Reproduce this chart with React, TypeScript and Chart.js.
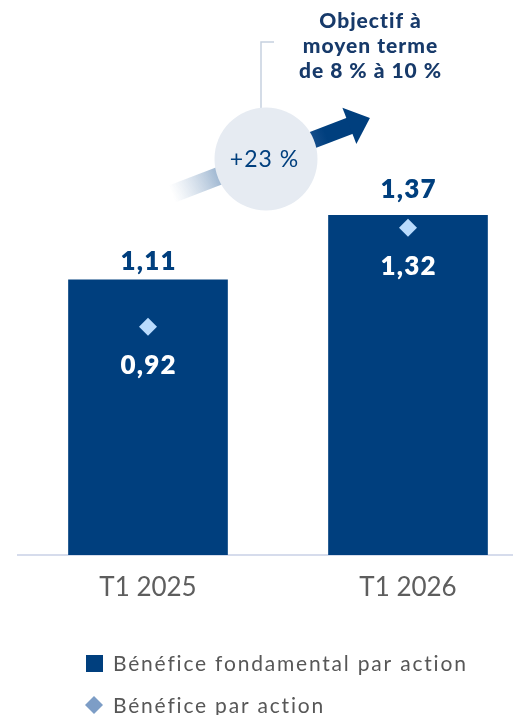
import { useEffect, useRef } from "react";
import { Chart, registerables } from "chart.js";

Chart.register(...registerables);

const categories = ["T1 2025", "T1 2026"];
const coreEps = [1.11, 1.37];
const eps = [0.92, 1.32];
const growthLabel = "+23 %";
const targetLines = ["Objectif à", "moyen terme", "de 8 % à 10 %"];
const legendLabels = ["Bénéfice fondamental par action", "Bénéfice par action"];

const NAVY = "#003f7e";
const DIAMOND = "#b9dbfd";
const LEGEND_DIAMOND = "#7d9dc6";
const FONT = "Lato";
const topGap = [19, 27];

const fmt = (v: number) => v.toFixed(2).replace(".", ",");

const setLS = (ctx: any, px: number) => {
  if ("letterSpacing" in ctx) ctx.letterSpacing = `${px}px`;
};

const overlay = {
  id: "overlay",
  afterDatasetsDraw(chart: any) {
    const ctx: CanvasRenderingContext2D = chart.ctx;
    const bars = chart.getDatasetMeta(0).data;
    const pts = chart.getDatasetMeta(1).data;
    ctx.save();
    ctx.textAlign = "center";
    ctx.textBaseline = "alphabetic";
    ctx.font = `800 26px ${FONT}`;
    setLS(ctx, 1.2);
    bars.forEach((b: any, i: number) => {
      ctx.fillStyle = NAVY;
      ctx.fillText(fmt(coreEps[i]), b.x + 0.6, b.y - topGap[i] + 9.4);
    });
    pts.forEach((p: any, i: number) => {
      ctx.fillStyle = "#ffffff";
      ctx.fillText(fmt(eps[i]), p.x + 0.6, p.y + 37.5 + 9.4);
    });

    // growth arrow
    const ang = (21 * Math.PI) / 180;
    const P0 = { x: 172, y: 194 };
    const d = { x: Math.cos(ang), y: -Math.sin(ang) };
    const n = { x: Math.sin(ang), y: Math.cos(ang) };
    const at = (t: number, s = 0) => ({ x: P0.x + d.x * t + n.x * s, y: P0.y + d.y * t + n.y * s });
    const band = (t0: number, t1: number, hw: number) => {
      const a = at(t0, -hw), b = at(t1, -hw), c = at(t1, hw), e = at(t0, hw);
      ctx.beginPath();
      ctx.moveTo(a.x, a.y);
      ctx.lineTo(b.x, b.y);
      ctx.lineTo(c.x, c.y);
      ctx.lineTo(e.x, e.y);
      ctx.closePath();
    };
    // tail
    const g0 = at(0), g1 = at(50);
    const tg = ctx.createLinearGradient(g0.x, g0.y, g1.x, g1.y);
    tg.addColorStop(0, "rgba(190,206,224,0)");
    tg.addColorStop(1, "rgba(160,184,210,1)");
    band(0, 70, 9);
    ctx.fillStyle = tg;
    ctx.fill();
    // shaft
    const s0 = at(130), s1 = at(165);
    const sg = ctx.createLinearGradient(s0.x, s0.y, s1.x, s1.y);
    sg.addColorStop(0, "#2f5f9b");
    sg.addColorStop(1, NAVY);
    band(100, 192, 8.5);
    ctx.fillStyle = sg;
    ctx.fill();
    // head
    const hb1 = at(190, -19.5), hb2 = at(190, 19.5), tip = at(212);
    ctx.beginPath();
    ctx.moveTo(hb1.x, hb1.y);
    ctx.lineTo(tip.x, tip.y);
    ctx.lineTo(hb2.x, hb2.y);
    ctx.closePath();
    ctx.fillStyle = NAVY;
    ctx.fill();

    // bracket line
    ctx.strokeStyle = "#c6d1df";
    ctx.lineWidth = 1.5;
    ctx.beginPath();
    ctx.moveTo(274, 42);
    ctx.lineTo(261, 42);
    ctx.lineTo(261, 112);
    ctx.stroke();

    // circle
    ctx.beginPath();
    ctx.arc(266, 159, 51.5, 0, Math.PI * 2);
    ctx.fillStyle = "#e6ebf2";
    ctx.fill();

    ctx.fillStyle = NAVY;
    ctx.font = `400 23px ${FONT}`;
    setLS(ctx, 1);
    ctx.fillText(growthLabel, 264.5, 159 + 8);

    // target text
    ctx.fillStyle = "#173a6a";
    ctx.font = `900 21px ${FONT}`;
    setLS(ctx, 1);
    targetLines.forEach((l, i) => ctx.fillText(l, 370.5, 20 + i * 25 + 7.5));

    // legend
    ctx.textAlign = "left";
    ctx.font = `400 21px ${FONT}`;
    setLS(ctx, 1.8);
    ctx.fillStyle = NAVY;
    ctx.fillRect(86, 655, 17, 17);
    ctx.fillStyle = "#575757";
    ctx.fillText(legendLabels[0], 113, 663 + 7.5);
    ctx.beginPath();
    ctx.moveTo(94, 696);
    ctx.lineTo(103, 705);
    ctx.lineTo(94, 714);
    ctx.lineTo(85, 705);
    ctx.closePath();
    ctx.fillStyle = LEGEND_DIAMOND;
    ctx.fill();
    ctx.fillStyle = "#575757";
    ctx.fillText(legendLabels[1], 113, 705 + 7.5);
    ctx.restore();
  },
};

export default function App() {
  const ref = useRef<HTMLCanvasElement>(null);
  useEffect(() => {
    if (!ref.current) return;
    const chart = new Chart(ref.current, {
      type: "bar",
      data: {
        datasets: [
          {
            type: "bar",
            label: legendLabels[0],
            data: categories.map((_, i) => ({ x: i + 0.5, y: coreEps[i] })),
            backgroundColor: NAVY,
            barThickness: 159,
            order: 2,
          } as any,
          {
            type: "scatter",
            label: legendLabels[1],
            data: categories.map((_, i) => ({ x: i + 0.5, y: eps[i] })),
            backgroundColor: DIAMOND,
            borderWidth: 0,
            pointStyle: "rectRot",
            pointRadius: 9,
            order: 1,
          } as any,
        ],
      },
      options: {
        responsive: false,
        animation: false,
        layout: { autoPadding: false, padding: { left: 18, right: 0, top: 0, bottom: 0 } },
        plugins: { legend: { display: false }, tooltip: { enabled: false } },
        scales: {
          x: {
            type: "linear",
            offset: false,
            bounds: "data",
            min: 0,
            max: 495 / 260,
            grid: { display: false, drawTicks: false, tickLength: 0, offset: false },
            border: { display: true, color: "#d6dcec", width: 2 },
            afterBuildTicks: (axis: any) => {
              axis.ticks = categories.map((_, i) => ({ value: i + 0.5 }));
            },
            afterFit: (scale: any) => {
              scale.height = 160;
            },
            ticks: {
              autoSkip: false,
              maxRotation: 0,
              padding: 17,
              color: "#5e5e5e",
              font: { family: FONT, size: 26, weight: "400" },
              callback: (v: any) => categories[Math.round(Number(v) - 0.5)] ?? "",
            },
          },
          y: {
            display: false,
            min: 0,
            max: 555 / 248,
          },
        },
      },
      plugins: [overlay],
    } as any);
    return () => chart.destroy();
  }, []);
  return (
    <div style={{ position: "fixed", left: 0, top: 0, width: 513, height: 715, background: "#fff" }}>
      <canvas ref={ref} width={513} height={715} />
    </div>
  );
}
